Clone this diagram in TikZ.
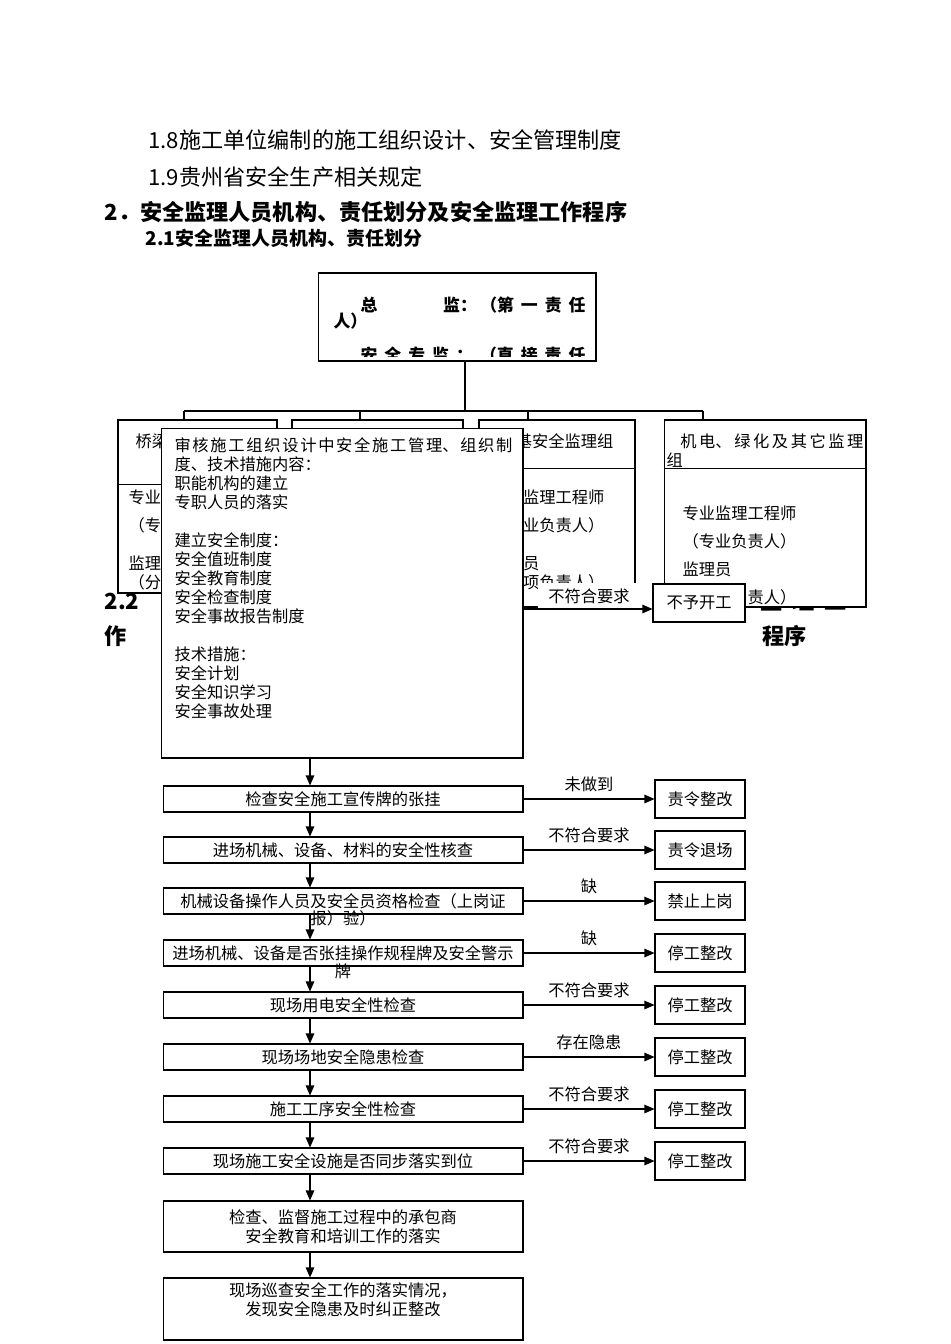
\documentclass[tikz,border=0pt]{standalone}
\usepackage{fontspec}
\setmainfont{Noto Sans CJK SC}
\usetikzlibrary{positioning}
\usetikzlibrary{arrows.meta}
\XeTeXlinebreaklocale "zh"
\XeTeXlinebreakskip=0pt plus 1pt
\setlength{\parindent}{0pt}
\newcommand{\zw}{\fontsize{9.25pt}{10.8pt}\selectfont}
\newcommand{\bt}{\fontsize{12.6pt}{15pt}\selectfont}

\begin{document}
\begin{tikzpicture}[x=0.02cm, y=-0.02cm, line width=0.6pt,
  box/.style={draw, fill=white, inner sep=0pt},
  flow/.style={draw, fill=white, minimum width=7.2cm, minimum height=0.52cm, inner sep=0pt, align=center, font=\zw},
  act/.style={draw, fill=white, minimum width=1.8cm, minimum height=0.76cm, inner sep=0pt, font=\zw},
  arr/.style={-{Triangle[length=0.2cm,width=0.17cm]}},
  txt/.style={inner sep=0pt, font=\zw, align=left}]

\useasboundingbox (0,0) rectangle (950,1344);

%%%%%% headings %%%%%%
{
\node[anchor=west, inner sep=0pt, font=\bt] (h18) at (148,140) {1.8施工单位编制的施工组织设计、安全管理制度};
\node[anchor=west, inner sep=0pt, font=\bt] (h19) at (148,177) {1.9贵州省安全生产相关规定};
\node[anchor=west, inner sep=0pt, font=\bt\bfseries] (h2) at (104,212) {2．安全监理人员机构、责任划分及安全监理工作程序};
\node[anchor=west, inner sep=0pt, font=\fontsize{10.8pt}{13pt}\selectfont\bfseries] (h21) at (145,238) {2.1安全监理人员机构、责任划分};
}

% 2.2 heading, mostly under the boxes
{
\node[anchor=west, inner sep=0pt, font=\bt\bfseries] (h22) at (104,601) {2.2};
\node[anchor=west, inner sep=0pt, font=\bt\bfseries] (h22b) at (760,601) {监\hspace{0.45em}理\hspace{0.45em}工};
\node[anchor=west, inner sep=0pt, font=\bt\bfseries] (zuo) at (104,636) {作};
\node[anchor=west, inner sep=0pt, font=\bt\bfseries] (cx) at (762,636) {程序};
}

%%%%%%%%%%%%     org chart   %%%%%%%%%%%%
{
\node[box, minimum width=5.56cm, minimum height=1.76cm] (zj) at (457,317) {};
\begin{scope}
\clip (zj.north west) rectangle ([yshift=0.1cm]zj.south east);
\node[txt, anchor=west, font=\fontsize{9.6pt}{12pt}\selectfont\bfseries] (zj1) at (360,305) {\hbox to 4.5cm{总\hspace{3.9em}监：\hspace{0.2em}（第\hfil 一\hfil 责\hfil 任}};
\node[txt, anchor=west, font=\fontsize{9.6pt}{12pt}\selectfont\bfseries] (zj2) at (333,321) {人）};
\node[txt, anchor=west, font=\fontsize{9.6pt}{12pt}\selectfont\bfseries] (zj3) at (360,355) {\hbox to 4.5cm{安\hfil 全\hfil 专\hfil 监\hfil ：\hfil （直\hfil 接\hfil 责\hfil 任}};
\end{scope}

\node[box, minimum width=3.18cm, minimum height=3.46cm] (b1) at (197.5,506.5) {};
\draw ([yshift=-1.3cm]b1.north west) -- ([yshift=-1.3cm]b1.north east);
\node[txt, anchor=west] (b1t) at (135,441) {桥梁安全监理组};
\node[txt, anchor=north west] (b1x) at (128,489) {专业监理工程师\\[0.18cm]（专业负责人）\\[0.38cm]监理员\\（分项负责人）};

\node[box, minimum width=3.42cm, minimum height=3.6cm] (b2) at (377.5,510) {};

\node[box, minimum width=3.12cm, minimum height=3.74cm] (b3) at (557,513.5) {};
\draw ([yshift=-0.98cm]b3.north west) -- ([yshift=-0.98cm]b3.north east);
\node[txt, anchor=west] (b3t) at (499,441) {路基安全监理组};
\node[txt, anchor=north west] (b3x) at (490,489) {专业监理工程师\\[0.18cm]（专业负责人）\\[0.38cm]监理员\\（分项负责人）};

\node[box, minimum width=4.04cm, minimum height=3.74cm] (b4) at (765,513.5) {};
\draw ([yshift=-0.98cm]b4.north west) -- ([yshift=-0.98cm]b4.north east);
\node[txt, anchor=north west, text width=3.94cm, align=justify] (b4t) at (666,433) {\hspace*{0.85em}机电、绿化及其它监理\linebreak 组};
\node[txt, anchor=north west] (b4x) at (682,505) {专业监理工程师\\[0.18cm]（专业负责人）\\[0.18cm]监理员\\[0.18cm]（分项负责人）};

\coordinate (bus) at (465,411);
\coordinate (d1) at (184,411);
\coordinate (d2) at (360,411);
\coordinate (d3) at (528,411);
\coordinate (d4) at (703,411);
\draw (bus |- zj.south) -- (bus);
\draw (d1) -- (d4);
\foreach \d/\b in {d1/b1, d2/b2, d3/b3, d4/b4}
  \draw (\d) -- (\d |- \b.north);
}

%%%%%%%%%%%%     review box   %%%%%%%%%%%%
{
\node[box, minimum width=7.23cm, minimum height=6.6cm] (plan) at (342.3,593) {};
\node[txt, anchor=north west, text width=6.76cm, align=justify] (plantext) at (174,437) {审核施工组织设计中安全施工管理、组织制度、技术措施内容：\par
职能机构的建立\par
专职人员的落实\par
\mbox{}\par
建立安全制度：\par
安全值班制度\par
安全教育制度\par
安全检查制度\par
安全事故报告制度\par
\mbox{}\par
技术措施：\par
安全计划\par
安全知识学习\par
安全事故处理};

\node[fill=white, inner sep=0pt, minimum width=2.04cm, minimum height=0.52cm, font=\zw] (bfh) at (589,596) {不符合要求};
\node[act, minimum width=1.84cm] (byk) at (699,603) {不予开工};
\coordinate (a0) at (523,609);
\draw[arr] (a0) -- (a0 -| byk.west);
}

%%%%%%%%%%%%     check flow   %%%%%%%%%%%%
{
\coordinate (s0) at (310,758);
\node[flow] (r1) at (343,799) {检查安全施工宣传牌的张挂};
\node[flow] (r2) at (343,850) {进场机械、设备、材料的安全性核查};
\node[flow, label={[font=\zw, inner sep=0pt, label distance=-0.08cm]below:报）验）}] (r3) at (343,901) {机械设备操作人员及安全员资格检查（上岗证};
\node[flow, label={[font=\zw, inner sep=0pt, label distance=-0.07cm]below:牌}] (r4) at (343,953) {进场机械、设备是否张挂操作规程牌及安全警示};
\node[flow] (r5) at (343,1005) {现场用电安全性检查};
\node[flow] (r6) at (343,1057) {现场场地安全隐患检查};
\node[flow] (r7) at (343,1109) {施工工序安全性检查};
\node[flow] (r8) at (343,1161) {现场施工安全设施是否同步落实到位};
\node[flow, minimum height=1.02cm] (r9) at (343,1226.5) {检查、监督施工过程中的承包商\\安全教育和培训工作的落实};
\node[flow, minimum height=1.24cm] (r10) at (343,1309) {现场巡查安全工作的落实情况，\\发现安全隐患及时纠正整改\\ \mbox{}};

\draw[arr] (s0) -- (s0 |- r1.north);
\foreach \a/\b in {r1/r2, r2/r3, r3/r4, r4/r5, r5/r6, r6/r7, r7/r8, r8/r9, r9/r10}
  \draw[arr] (\a.south -| s0) -- (\b.north -| s0);

\foreach \i/\y/\lab/\res in {1/799/未做到/责令整改, 2/850/不符合要求/责令退场, 3/901/缺/禁止上岗, 4/953/缺/停工整改, 5/1005/不符合要求/停工整改, 6/1057/存在隐患/停工整改, 7/1109/不符合要求/停工整改, 8/1161/不符合要求/停工整改}
{
  \node[act] (c\i) at (700,\y) {\res};
  \draw[arr] (r\i) -- node[above=0.14cm, font=\zw, inner sep=0pt] (t\i) {\lab} (c\i);
}
}

\end{tikzpicture}
\end{document}
